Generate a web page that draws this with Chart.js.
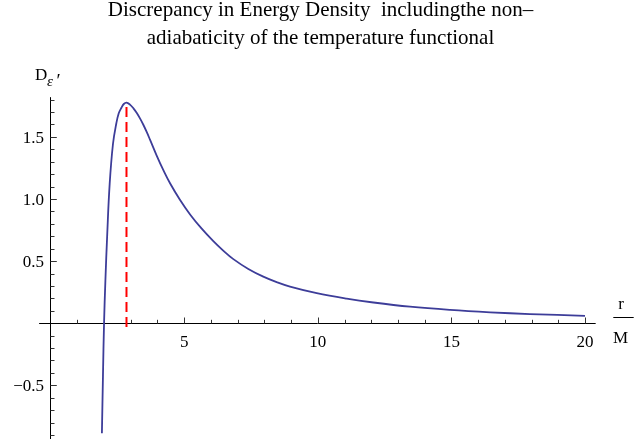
<!DOCTYPE html>
<html><head><meta charset="utf-8">
<style>html,body{margin:0;padding:0;background:#fff}#wrap{width:641px;height:439px;position:relative}</style>
<script src="https://cdn.jsdelivr.net/npm/chart.js@4.4.1/dist/chart.umd.min.js"></script>
</head><body><div id="wrap"><canvas id="c"></canvas></div>
<script>
const titleLines = ["Discrepancy in Energy Density  includingthe non\u2013", "adiabaticity of the temperature functional"];
const radius = [1.92, 1.96, 2.00, 2.05, 2.12, 2.21, 2.335, 2.46, 2.55, 2.65, 2.74, 2.84, 2.97, 3.10, 3.22, 3.35, 3.47, 3.60, 3.72, 3.97, 4.22, 4.47, 4.84, 5.22, 5.655, 6.09, 6.45, 6.84, 7.40, 7.96, 8.46, 8.96, 9.96, 11.08, 12.08, 13.45, 14.95, 16.45, 17.94, 20.0];
const discrepancy = [-0.886, -0.42, 0.0, 0.34, 0.72, 1.12, 1.445, 1.61, 1.69, 1.735, 1.765, 1.776, 1.760, 1.730, 1.694, 1.647, 1.598, 1.538, 1.478, 1.350, 1.2325, 1.127, 0.994, 0.876, 0.761, 0.661, 0.587, 0.516, 0.437, 0.375, 0.331, 0.295, 0.242, 0.198, 0.167, 0.133, 0.107, 0.088, 0.074, 0.060];
const peakR = [2.84, 2.84];
const peakLine = [-0.03, 1.776];
const xTickValues = [5, 10, 15, 20];
const xTickLabels = ["5", "10", "15", "20"];
const yTickValues = [-0.5, 0.5, 1.0, 1.5];
const yTickLabels = ["\u22120.5", "0.5", "1.0", "1.5"];
const xAxisLabel = ["r", "M"];
const yAxisLabel = ["D", "\u03b5", "\u2032"];

const SERIF = "'Liberation Serif', 'DejaVu Serif', serif";

const axesPlugin = {
  id: 'mmaAxes',
  beforeDatasetsDraw(chart) {
    const ctx = chart.ctx, xs = chart.scales.x, ys = chart.scales.y;
    const X = v => xs.getPixelForValue(v), Y = v => ys.getPixelForValue(v);
    const y0 = Math.floor(Y(0)) + 0.5, x0 = Math.floor(X(0)) + 0.5;
    ctx.save();
    ctx.strokeStyle = '#000'; ctx.lineWidth = 1;
    ctx.beginPath();
    ctx.moveTo(X(-0.43), y0); ctx.lineTo(X(20.4), y0);
    ctx.moveTo(x0, Y(1.82)); ctx.lineTo(x0, Y(-0.94));
    ctx.stroke();
    ctx.strokeStyle = '#333';
    ctx.beginPath();
    for (let i = 1; i <= 20; i++) {
      const len = (i % 5 === 0) ? 6 : 3.7;
      const px = Math.round(X(i)) + 0.5;
      ctx.moveTo(px, y0); ctx.lineTo(px, y0 - len);
    }
    for (let k = -9; k <= 18; k++) {
      if (k === 0) continue;
      const len = (k % 5 === 0) ? 6.3 : 4;
      const py = Math.round(Y(k / 10)) + 0.5;
      ctx.moveTo(x0, py); ctx.lineTo(x0 + len, py);
    }
    ctx.stroke();
    ctx.fillStyle = '#000';
    ctx.font = '17px ' + SERIF;
    ctx.textBaseline = 'alphabetic';
    ctx.textAlign = 'center';
    xTickValues.forEach((v, i) => ctx.fillText(xTickLabels[i], X(v), y0 + 23));
    ctx.textAlign = 'right';
    yTickValues.forEach((v, i) => ctx.fillText(yTickLabels[i], x0 - 6.5, Y(v) + 6));
    // x axis label r / M
    ctx.textAlign = 'center';
    ctx.fillText(xAxisLabel[0], 621, 308.5);
    ctx.fillText(xAxisLabel[1], 620.5, 343.3);
    ctx.strokeStyle = '#000';
    ctx.beginPath(); ctx.moveTo(613.3, 317.5); ctx.lineTo(633.7, 317.5); ctx.stroke();
    // y axis label D_eps'
    ctx.textAlign = 'left';
    ctx.fillText(yAxisLabel[0], 35, 79.5);
    ctx.font = 'italic 15px ' + SERIF;
    ctx.fillText(yAxisLabel[1], 47, 86);
    ctx.font = '19px ' + SERIF;
    ctx.fillText(yAxisLabel[2], 56.5, 87);
    ctx.restore();
  }
};

new Chart(document.getElementById('c'), {
  type: 'scatter',
  data: {
    datasets: [
      {
        data: radius.map((r, i) => ({ x: r, y: discrepancy[i] })),
        showLine: true, borderColor: '#3d3d99', borderWidth: 1.8,
        pointRadius: 0, tension: 0.4, fill: false
      },
      {
        data: peakR.map((r, i) => ({ x: r, y: peakLine[i] })),
        showLine: true, borderColor: '#ff0000', borderWidth: 2, borderDash: [10, 5],
        pointRadius: 0, fill: false
      }
    ]
  },
  options: {
    responsive: true, maintainAspectRatio: false, animation: false,
    events: [],
    layout: { padding: 0 },
    scales: {
      x: { type: 'linear', min: -1.894, max: 22.096, display: false },
      y: { type: 'linear', min: -0.932, max: 2.180, display: false }
    },
    plugins: {
      legend: { display: false },
      tooltip: { enabled: false },
      title: {
        display: true, text: titleLines, color: '#000',
        font: { family: SERIF, size: 21, weight: 'normal', lineHeight: 1.32 },
        padding: { top: -3, bottom: 0 }
      }
    }
  },
  plugins: [axesPlugin]
});
</script>
</body></html>
